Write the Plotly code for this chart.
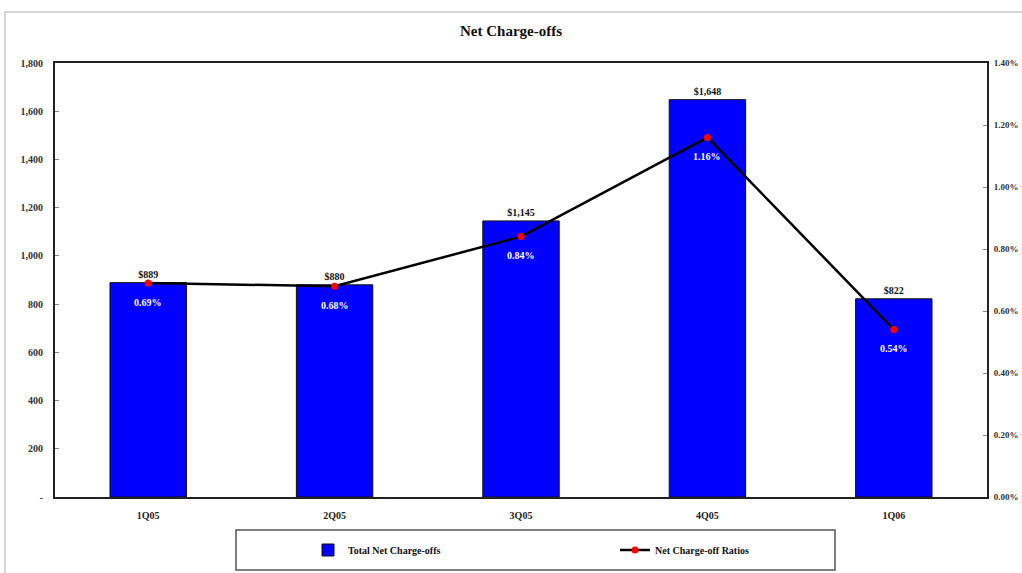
import plotly.graph_objects as go

quarters = ["1Q05", "2Q05", "3Q05", "4Q05", "1Q06"]
charge_offs = [889, 880, 1145, 1648, 822]
ratios = [0.0069, 0.0068, 0.0084, 0.0116, 0.0054]
left_ticks = [0, 200, 400, 600, 800, 1000, 1200, 1400, 1600, 1800]
left_labels = ["-", "200", "400", "600", "800", "1,000", "1,200", "1,400", "1,600", "1,800"]

FONT = "Liberation Serif"
W, H = 1022, 573
L, R, T, B = 55, 35, 63, 76
pw, ph = W - L - R, H - T - B

fig = go.Figure()
fig.add_trace(go.Bar(
    x=quarters, y=charge_offs, name="<b>Total Net Charge-offs</b>",
    marker=dict(color="#0000ff", line=dict(color="#111111", width=1)),
    width=0.41,
    text=[f"<b>${v:,}</b>" for v in charge_offs], textposition="outside",
    textfont=dict(family=FONT, size=10, color="#111111"),
    cliponaxis=False,
))
fig.add_trace(go.Scatter(
    x=quarters, y=ratios, name="<b>Net Charge-off Ratios</b>", yaxis="y2",
    mode="lines+markers",
    line=dict(color="#000000", width=2.5),
    marker=dict(color="#ff0000", size=7),
))
annotations = [
    dict(x=q, y=r, xref="x", yref="y2", text=f"<b>{r*100:.2f}%</b>", showarrow=False,
         yshift=-19, font=dict(family=FONT, size=10, color="#ffffff"))
    for q, r in zip(quarters, ratios)
]

def px_x(p):
    return (p - L) / pw

def px_y(p):
    return (H - B - p) / ph

shapes = [
    dict(type="rect", xref="paper", yref="paper", x0=px_x(5), x1=px_x(1030), y0=px_y(580), y1=px_y(12),
         line=dict(color="#c8c8c8", width=1.5), layer="below"),
    dict(type="rect", xref="paper", yref="paper", x0=px_x(236), x1=px_x(835), y0=px_y(570), y1=px_y(530),
         line=dict(color="#555555", width=1.5)),
]

tickfont = dict(family=FONT, size=10, color="#333333")
fig.update_layout(
    width=W, height=H,
    margin=dict(l=L, r=R, t=T, b=B, autoexpand=False),
    paper_bgcolor="white", plot_bgcolor="white",
    font=dict(family=FONT, size=10, color="#222222"),
    title=dict(text="<b>Net Charge-offs</b>", x=0.5, xanchor="center", y=1 - 31 / H, yanchor="middle",
               font=dict(family=FONT, size=15, color="#111111")),
    showlegend=True,
    legend=dict(orientation="h", x=px_x(308), xanchor="left", y=px_y(550), yanchor="middle",
                entrywidth=262, entrywidthmode="pixels", font=dict(family=FONT, size=10, color="#111111"),
                bgcolor="rgba(0,0,0,0)", itemwidth=30, tracegroupgap=0),
    xaxis=dict(showline=True, linecolor="#222222", linewidth=2, mirror=True, ticks="", showgrid=False,
               tickvals=quarters, ticktext=[f"<b>{q}</b>" for q in quarters], ticklabelstandoff=8,
               automargin=False, tickfont=dict(family=FONT, size=10, color="#222222")),
    yaxis=dict(range=[0, 1800], tickvals=left_ticks, ticktext=[f"<b>{t}</b>" for t in left_labels],
               showgrid=False, showline=True, linecolor="#222222", linewidth=2, ticks="inside", ticklen=4,
               tickcolor="#888888", zeroline=False, tickfont=tickfont, ticklabelstandoff=8, automargin=False),
    yaxis2=dict(range=[0, 0.014], tickvals=[i * 0.002 for i in range(8)],
                ticktext=[f"<b>{i*0.2:.2f}%</b>" for i in range(8)], overlaying="y", side="right",
                showgrid=False, showline=True, linecolor="#222222", linewidth=2, ticks="inside",
                ticklen=4, tickcolor="#888888", zeroline=False,
                tickfont=dict(family=FONT, size=9, color="#333333"), ticklabelstandoff=3,
                automargin=False),
    shapes=shapes,
    annotations=annotations,
)

fig.write_html("out.html")
